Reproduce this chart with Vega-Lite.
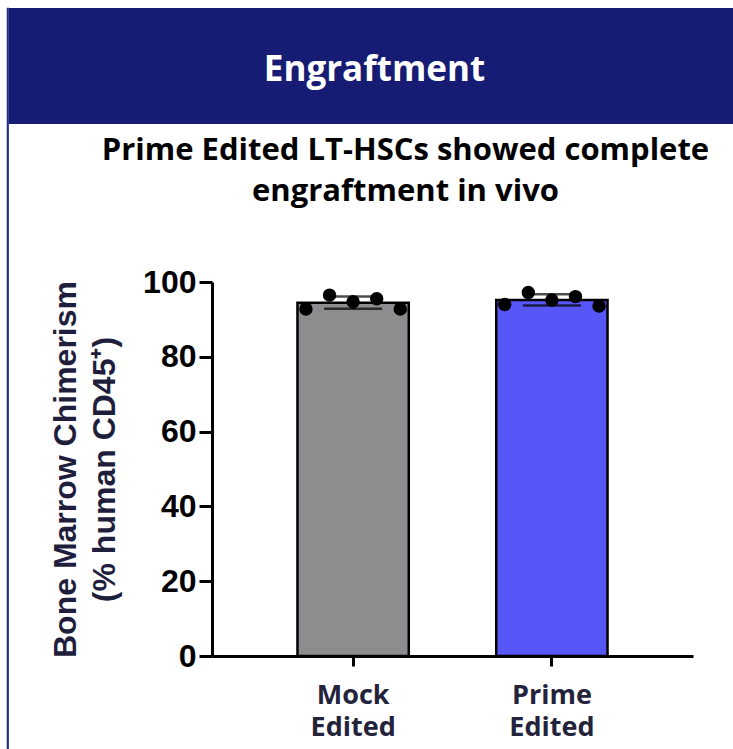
{
  "$schema": "https://vega.github.io/schema/vega-lite/v6.json",
  "background": "white",
  "padding": {"left": 6, "top": 7, "right": 0, "bottom": 0},
  "spacing": 0,
  "config": {"view": {"stroke": null}},
  "hconcat": [
    {
      "width": 1,
      "height": 740,
      "view": {"stroke": "#283080", "strokeWidth": 1.2},
      "data": {"values": [{}]},
      "mark": {"type": "text"},
      "encoding": {"text": {"value": ""}}
    },
    {
      "spacing": 11,
      "vconcat": [
        {
          "width": 725,
          "height": 116,
          "view": {"fill": "#161c73", "stroke": null},
          "data": {"values": [{"heading": "Engraftment"}]},
          "mark": {"type": "text", "font": "Open Sans", "fontWeight": "bold", "fontSize": 35, "color": "white", "baseline": "alphabetic", "dx": 3, "dy": 15},
          "encoding": {"text": {"field": "heading"}}
        },
        {
          "spacing": 39,
          "hconcat": [
            {
              "width": 1,
              "height": 1,
              "data": {"values": [{}]},
              "mark": {"type": "text"},
              "encoding": {"text": {"value": ""}}
            },
            {
              "width": 481,
              "height": 374,
              "title": {
                "text": ["Prime Edited LT-HSCs showed complete", "engraftment in vivo"],
                "font": "Open Sans",
                "fontWeight": "bold",
                "fontSize": 31,
                "color": "black",
                "lineHeight": 41,
                "anchor": "middle",
                "dx": -47,
                "offset": 58
              },
              "data": {
                "values": [
                  {"group": "Mock Edited", "mouse": 1, "chimerism": 92.8},
                  {"group": "Mock Edited", "mouse": 2, "chimerism": 96.5},
                  {"group": "Mock Edited", "mouse": 3, "chimerism": 94.7},
                  {"group": "Mock Edited", "mouse": 4, "chimerism": 95.5},
                  {"group": "Mock Edited", "mouse": 5, "chimerism": 92.8},
                  {"group": "Prime Edited", "mouse": 1, "chimerism": 94.0},
                  {"group": "Prime Edited", "mouse": 2, "chimerism": 97.2},
                  {"group": "Prime Edited", "mouse": 3, "chimerism": 95.2},
                  {"group": "Prime Edited", "mouse": 4, "chimerism": 96.1},
                  {"group": "Prime Edited", "mouse": 5, "chimerism": 93.6}
                ]
              },
              "encoding": {
                "x": {
                  "field": "group",
                  "type": "nominal",
                  "sort": ["Mock Edited", "Prime Edited"],
                  "scale": {"paddingInner": 0.44, "paddingOuter": 0.43},
                  "title": null,
                  "axis": {
                    "domainColor": "black",
                    "domainWidth": 3,
                    "tickColor": "black",
                    "tickWidth": 3,
                    "tickSize": 10,
                    "labelFont": "Open Sans",
                    "labelFontWeight": "bold",
                    "labelFontSize": 27,
                    "labelColor": "#23233b",
                    "labelAngle": 0,
                    "labelPadding": 16,
                    "labelLineHeight": 32,
                    "labelExpr": "split(datum.label, ' ')"
                  }
                }
              },
              "resolve": {"scale": {"xOffset": "independent"}},
              "layer": [
                {
                  "mark": {"type": "bar", "stroke": "black", "strokeWidth": 2.5},
                  "encoding": {
                    "y": {
                      "aggregate": "mean",
                      "field": "chimerism",
                      "type": "quantitative",
                      "scale": {"domain": [0, 100], "nice": false},
                      "title": ["Bone Marrow Chimerism", "(% human CD45⁺)"],
                      "axis": {
                        "values": [0, 20, 40, 60, 80, 100],
                        "grid": false,
                        "domainColor": "black",
                        "domainWidth": 3,
                        "tickColor": "black",
                        "tickWidth": 3,
                        "tickSize": 13,
                        "labelFont": "Liberation Sans",
                        "labelFontWeight": "bold",
                        "labelFontSize": 32,
                        "labelColor": "black",
                        "labelPadding": 3,
                        "titleFont": "Liberation Sans",
                        "titleFontWeight": "bold",
                        "titleFontSize": 32,
                        "titleColor": "#1f1f3d",
                        "titlePadding": 21,
                        "titleLineHeight": 39
                      }
                    },
                    "color": {
                      "field": "group",
                      "type": "nominal",
                      "scale": {"domain": ["Mock Edited", "Prime Edited"], "range": ["#8d8d90", "#5757f8"]},
                      "legend": null
                    }
                  }
                },
                {
                  "mark": {
                    "type": "errorbar",
                    "extent": "stdev",
                    "color": "black",
                    "ticks": {"size": 58, "thickness": 2.5},
                    "rule": {"strokeWidth": 2.5}
                  },
                  "encoding": {
                    "y": {"field": "chimerism", "type": "quantitative", "title": ["Bone Marrow Chimerism", "(% human CD45⁺)"]}
                  }
                },
                {
                  "mark": {"type": "circle", "size": 180, "color": "black", "opacity": 1},
                  "encoding": {
                    "y": {"field": "chimerism", "type": "quantitative", "title": ["Bone Marrow Chimerism", "(% human CD45⁺)"]},
                    "xOffset": {"field": "mouse", "type": "nominal", "scale": {"type": "point", "padding": 0.36}}
                  }
                }
              ]
            }
          ]
        }
      ]
    }
  ]
}
